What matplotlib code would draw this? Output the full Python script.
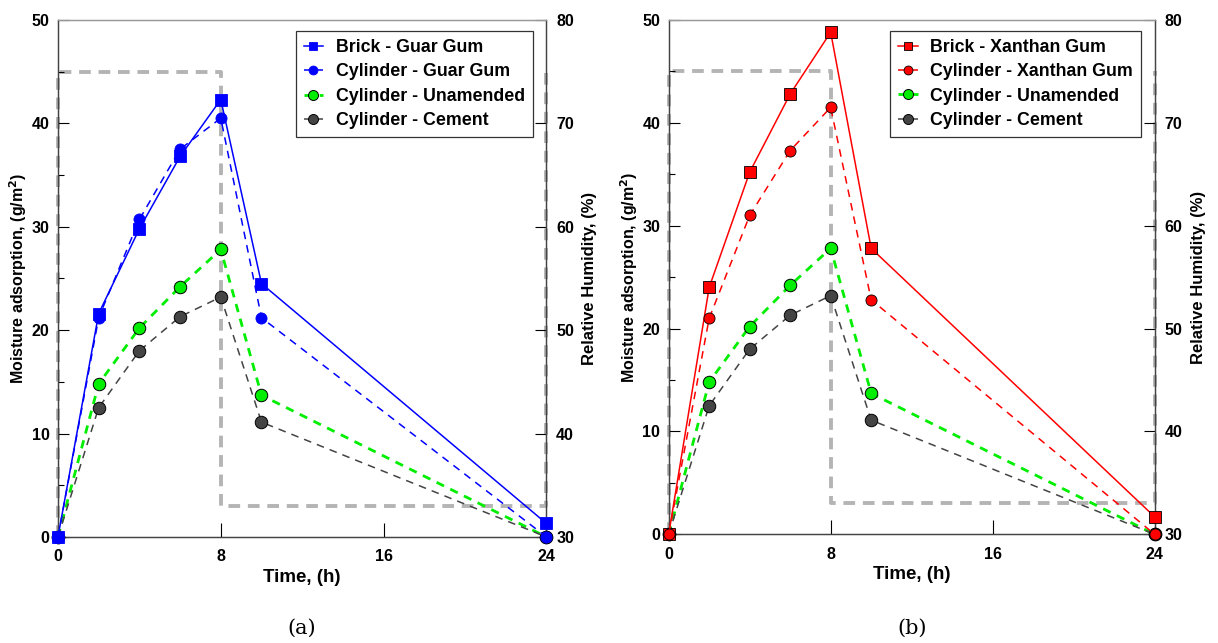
import matplotlib
matplotlib.use("Agg")
import matplotlib.pyplot as plt
from matplotlib.ticker import MultipleLocator

plt.rcParams['font.family'] = ['Liberation Sans', 'DejaVu Sans']
plt.rcParams['font.weight'] = 'bold'

time_h = [0, 2, 4, 6, 8, 10, 24]
brick_guar = [0, 21.6, 29.8, 36.8, 42.3, 24.5, 1.3]
cyl_guar = [0, 21.2, 30.7, 37.5, 40.5, 21.2, 0]
brick_xanthan = [0, 24.0, 35.2, 42.8, 48.8, 27.8, 1.7]
cyl_xanthan = [0, 21.0, 31.0, 37.3, 41.5, 22.8, 0]
cyl_unamended = [0, 14.8, 20.2, 24.2, 27.8, 13.7, 0]
cyl_cement = [0, 12.5, 18.0, 21.3, 23.2, 11.1, 0]

rh_time = [0, 0, 8, 8, 24, 24]
rh_values = [30, 75, 75, 33, 33, 75]

x_ticks = [0, 8, 16, 24]
panel_labels = ['(a)', '(b)']

fig = plt.figure(figsize=(12.18, 6.43), dpi=100)
axes_pos = [[0.0476, 0.165, 0.401, 0.804], [0.549, 0.169, 0.399, 0.800]]

panels = [
    (brick_guar, cyl_guar, 'blue', 'Guar Gum'),
    (brick_xanthan, cyl_xanthan, 'red', 'Xanthan Gum'),
]

for i, (brick, cyl, col, name) in enumerate(panels):
    ax = fig.add_axes(axes_pos[i])
    ax2 = ax.twinx()
    ax2.plot(rh_time, rh_values, color='#b4b4b4', lw=2.8, ls=(0, (3, 2)), clip_on=False, zorder=1)
    ax2.set_ylim(30, 80)
    ax2.set_yticks([30, 40, 50, 60, 70, 80])
    ax2.tick_params(axis='y', direction='in', length=8, labelsize=11.5, width=0.8, pad=7)
    ax2.set_ylabel('Relative Humidity, (%)', fontsize=12, fontweight='bold', labelpad=6)

    ax.set_zorder(ax2.get_zorder() + 1)
    ax.patch.set_visible(False)

    edge = 'black' if col == 'red' else col
    ax.plot(time_h, brick, color=col, lw=1.1, ls='-', marker='s', ms=8,
            mfc=col, mec=edge, mew=0.6,
            label=f'Brick - {name}', clip_on=False, zorder=5)
    ax.plot(time_h, cyl, color=col, lw=1.1, ls=(0, (5, 4)), marker='o', ms=8,
            mfc=col, mec=edge, mew=0.6,
            label=f'Cylinder - {name}', clip_on=False, zorder=5)
    ax.plot(time_h, cyl_unamended, color='#00ee00', lw=2.0, ls=(0, (3, 2.5)), marker='o', ms=9,
            mfc='#00ee00', mec='black', mew=0.7,
            label='Cylinder - Unamended', clip_on=False, zorder=4)
    ax.plot(time_h, cyl_cement, color='#444444', lw=1.1, ls=(0, (5, 4)), marker='o', ms=9,
            mfc='#444444', mec='black', mew=0.7,
            label='Cylinder - Cement', clip_on=False, zorder=4)

    ax.set_xlim(0, 24)
    ax.set_ylim(0, 50)
    ax.set_xticks(x_ticks)
    ax.set_yticks([0, 10, 20, 30, 40, 50])
    ax.yaxis.set_minor_locator(MultipleLocator(5))
    ax.tick_params(axis='x', direction='in', length=10, labelsize=11.5, width=0.8, pad=9)
    ax.tick_params(axis='y', which='major', direction='in', length=8, labelsize=11.5, width=0.8, pad=6)
    ax.tick_params(axis='y', which='minor', direction='in', length=4, width=0.8)
    ax.set_xlabel('Time, (h)', fontsize=13.5, fontweight='bold', labelpad=3)
    ax.set_ylabel('Moisture adsorption, (g/m$^\\mathbf{2}$)', fontsize=11.5, fontweight='bold', labelpad=2)

    for a in (ax, ax2):
        a.spines['top'].set_color('#999999')
        a.spines['bottom'].set_color('#444444')
        a.spines['left'].set_color('#444444')
        a.spines['right'].set_color('#444444')
        for s in a.spines.values():
            s.set_linewidth(0.9)

    leg = ax.legend(loc='upper right', bbox_to_anchor=(0.972, 0.979), borderaxespad=0,
                    fontsize=12.8, frameon=True, fancybox=False, edgecolor='black',
                    handlelength=1.1, markerscale=0.8,
                    borderpad=0.45, labelspacing=0.42, handletextpad=0.7)
    leg.get_frame().set_linewidth(0.9)
    for t in leg.get_texts():
        t.set_fontweight('bold')

    cx = axes_pos[i][0] + axes_pos[i][2] / 2
    fig.text(cx, 0.023, panel_labels[i], ha='center', va='center', fontsize=15,
             family='DejaVu Serif', fontweight='normal')

fig.savefig('out.png', dpi=100)
